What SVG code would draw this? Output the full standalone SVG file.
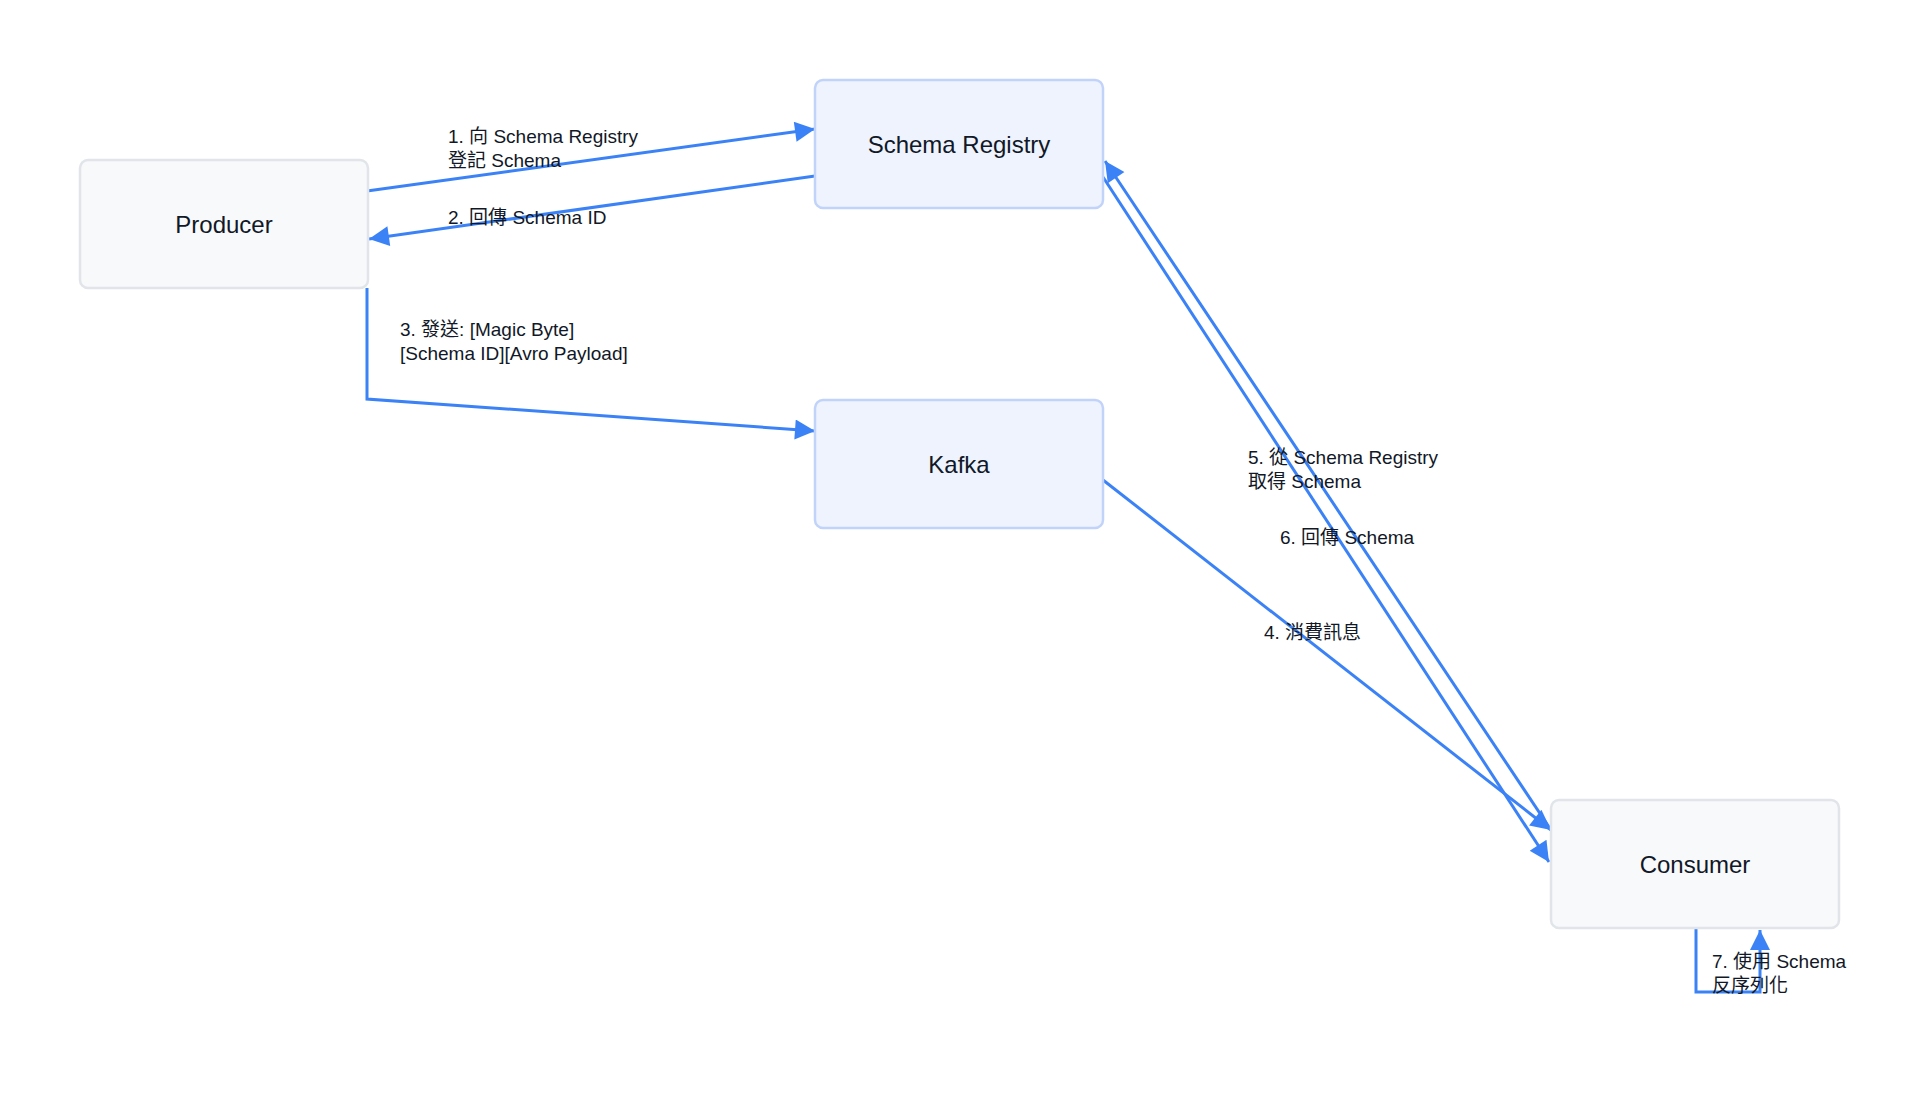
<svg xmlns="http://www.w3.org/2000/svg" width="1920" height="1120" viewBox="0 0 1920 1120">
<style>
.n rect{stroke-width:2.5}
.g rect{fill:#f8f9fb;stroke:#e1e4e9}
.b rect{fill:#eef3fe;stroke:#c2d3fa}
.n text{font-family:"Liberation Sans","Noto Sans CJK TC",sans-serif;font-size:24px;fill:#111827;text-anchor:middle;dominant-baseline:central}
.e path{fill:none;stroke:#3b82f6;stroke-width:3;marker-end:url(#a)}
.l{font-family:"Liberation Sans","Noto Sans CJK TC",sans-serif;font-size:19px;fill:#111827}
</style>
<defs><marker id="a" viewBox="0 0 10 10" refX="10" refY="5" markerWidth="9" markerHeight="9" markerUnits="userSpaceOnUse" orient="auto"><path d="M0,0L10,5L0,10z" fill="#3b82f6" transform="scale(1)"/></marker></defs>
<defs><marker id="m" viewBox="0 0 10 10" refX="10" refY="5" markerWidth="28" markerHeight="20" markerUnits="userSpaceOnUse" orient="auto"><path d="M0,0L10,5L0,10z" fill="#3b82f6"/></marker></defs>
<rect width="1920" height="1120" fill="#fff"/>
<g class="e" style="--x:0">
<path marker-end="url(#m)" style="marker-end:url(#m)" d="M367,191L815,129"/>
<path style="marker-end:url(#m)" d="M815,176L369,239"/>
<path style="marker-end:url(#m)" d="M367,288L367,399L815,431"/>
<path style="marker-end:url(#m)" d="M1103,480L1551,830"/>
<path style="marker-end:url(#m)" d="M1103,177L1549,862"/>
<path style="marker-end:url(#m)" d="M1551,830L1105,161"/>
<path style="marker-end:url(#m)" d="M1696,928L1696,992L1760,992L1760,930"/>
</g>
<g id="producer" class="n g"><rect x="80" y="160" width="288" height="128" rx="8"/><text x="224" y="224">Producer</text></g>
<g id="schema-registry" class="n b"><rect x="815" y="80" width="288" height="128" rx="8"/><text x="959" y="144">Schema Registry</text></g>
<g id="kafka" class="n b"><rect x="815" y="400" width="288" height="128" rx="8"/><text x="959" y="464">Kafka</text></g>
<g id="consumer" class="n g"><rect x="1551" y="800" width="288" height="128" rx="8"/><text x="1695" y="864">Consumer</text></g>
<g id="labels">
<text class="l" x="448" y="143">1. 向 Schema Registry</text>
<text class="l" x="448" y="167">登記 Schema</text>
<text class="l" x="448" y="224">2. 回傳 Schema ID</text>
<text class="l" x="400" y="336">3. 發送: [Magic Byte]</text>
<text class="l" x="400" y="360">[Schema ID][Avro Payload]</text>
<text class="l" x="1248" y="464">5. 從 Schema Registry</text>
<text class="l" x="1248" y="488">取得 Schema</text>
<text class="l" x="1280" y="544">6. 回傳 Schema</text>
<text class="l" x="1264" y="639">4. 消費訊息</text>
<text class="l" x="1712" y="968">7. 使用 Schema</text>
<text class="l" x="1712" y="992">反序列化</text>
</g>
</svg>
